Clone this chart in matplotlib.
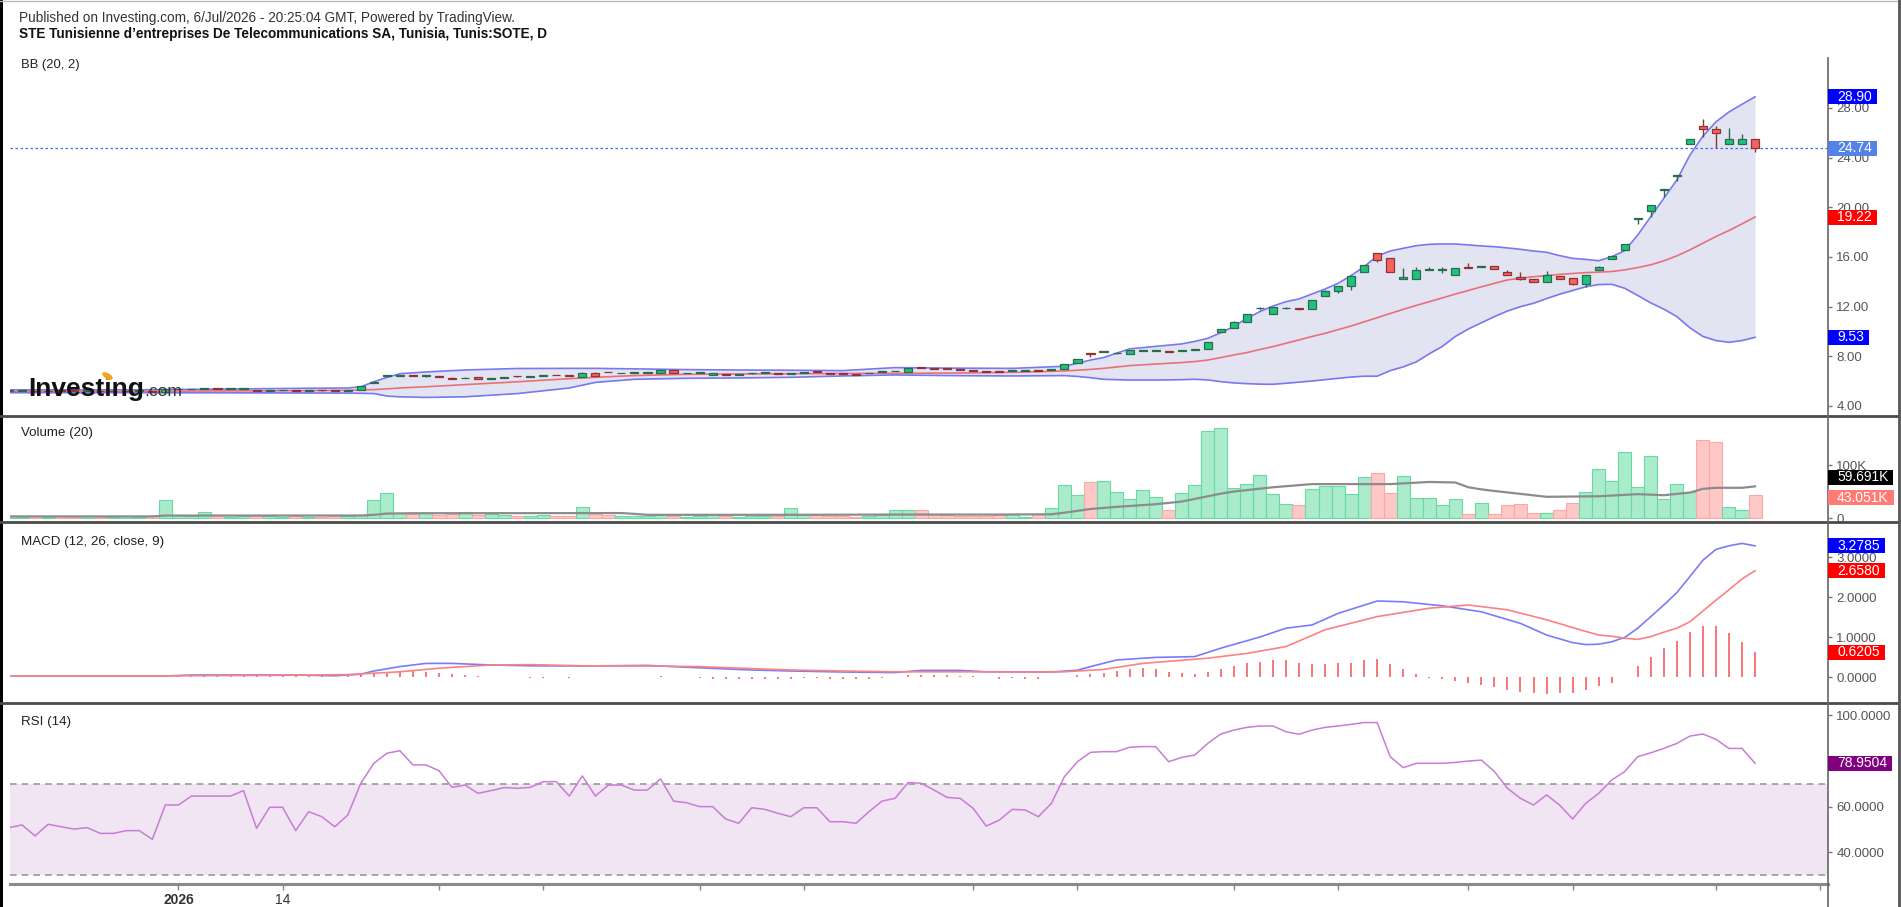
import numpy as np
import matplotlib.pyplot as plt
from matplotlib.patches import Rectangle, Ellipse
from matplotlib.lines import Line2D

plt.rcParams['font.family'] = ['Liberation Sans', 'DejaVu Sans']

W, H = 1901, 907

# daily bars of Tunis:SOTE, index 0..134 (last bar = 6 Jul 2026)
opens = [5.20, 5.21, 5.22, 5.17, 5.22, 5.21, 5.20, 5.21, 5.18, 5.18,
         5.19, 5.19, 5.14, 5.34, 5.33, 5.36, 5.38, 5.37, 5.37, 5.30,
         5.23, 5.26, 5.27, 5.22, 5.26, 5.25, 5.20, 5.29, 5.83, 6.40,
         6.43, 6.46, 6.40, 6.40, 6.22, 6.22, 6.34, 6.16, 6.22, 6.42,
         6.36, 6.40, 6.48, 6.45, 6.36, 6.68, 6.73, 6.63, 6.68, 6.64,
         6.63, 6.87, 6.63, 6.64, 6.50, 6.52, 6.53, 6.62, 6.68, 6.57,
         6.58, 6.65, 6.76, 6.63, 6.59, 6.54, 6.63, 6.73, 6.79, 6.77,
         7.09, 6.98, 6.97, 6.91, 6.86, 6.75, 6.75, 6.81, 6.84, 6.86,
         6.89, 6.95, 7.49, 8.21, 8.36, 8.24, 8.19, 8.44, 8.44, 8.37,
         8.46, 8.50, 8.61, 9.93, 10.26, 10.79, 11.86, 11.41, 11.86, 11.82,
         11.81, 12.86, 13.26, 13.66, 14.82, 16.30, 15.90, 14.20, 14.20, 14.95,
         14.94, 14.55, 15.15, 15.20, 15.25, 14.77, 14.41, 14.23, 14.01, 14.47,
         14.28, 13.80, 14.95, 15.84, 16.56, 19.08, 19.70, 21.42, 22.55, 25.08,
         26.55, 26.31, 25.08, 25.08, 25.48]
highs = [5.22, 5.23, 5.22, 5.23, 5.23, 5.22, 5.22, 5.21, 5.19, 5.20,
         5.20, 5.19, 5.36, 5.35, 5.37, 5.38, 5.39, 5.38, 5.40, 5.31,
         5.27, 5.27, 5.27, 5.27, 5.27, 5.25, 5.31, 5.62, 5.98, 6.46,
         6.48, 6.46, 6.41, 6.40, 6.30, 6.34, 6.34, 6.22, 6.35, 6.43,
         6.40, 6.46, 6.49, 6.45, 6.70, 6.70, 6.74, 6.66, 6.70, 6.65,
         6.88, 6.88, 6.65, 6.66, 6.69, 6.58, 6.54, 6.65, 6.70, 6.58,
         6.60, 6.67, 6.77, 6.64, 6.60, 6.55, 6.65, 6.75, 6.81, 7.05,
         7.15, 6.99, 6.98, 6.92, 6.87, 6.76, 6.76, 6.83, 6.87, 6.86,
         6.91, 7.39, 7.79, 8.22, 8.40, 8.32, 8.52, 8.47, 8.47, 8.38,
         8.48, 8.62, 9.17, 10.22, 10.81, 11.43, 12.00, 11.97, 12.00, 11.83,
         12.56, 13.31, 13.68, 14.51, 15.38, 16.32, 15.92, 15.14, 15.20, 15.22,
         15.22, 15.12, 15.50, 15.30, 15.27, 14.99, 14.77, 14.25, 14.87, 14.49,
         14.30, 14.57, 15.24, 16.12, 17.04, 19.14, 20.21, 21.48, 22.64, 25.50,
         27.09, 26.55, 26.36, 25.88, 25.50]
lows = [5.18, 5.19, 5.16, 5.17, 5.20, 5.19, 5.20, 5.18, 5.17, 5.18,
        5.18, 5.12, 5.13, 5.33, 5.33, 5.35, 5.36, 5.36, 5.37, 5.22,
        5.23, 5.25, 5.20, 5.22, 5.24, 5.18, 5.20, 5.29, 5.83, 6.38,
        6.43, 6.38, 6.30, 6.36, 6.14, 6.22, 6.14, 6.16, 6.22, 6.37,
        6.36, 6.40, 6.46, 6.40, 6.36, 6.44, 6.70, 6.62, 6.67, 6.62,
        6.63, 6.63, 6.62, 6.62, 6.48, 6.49, 6.51, 6.60, 6.66, 6.55,
        6.57, 6.64, 6.73, 6.60, 6.57, 6.52, 6.62, 6.72, 6.78, 6.77,
        7.06, 6.96, 6.95, 6.89, 6.84, 6.73, 6.73, 6.80, 6.84, 6.84,
        6.88, 6.95, 7.49, 7.93, 8.34, 8.16, 8.19, 8.43, 8.43, 8.33,
        8.45, 8.48, 8.61, 9.93, 10.26, 10.79, 11.76, 11.41, 11.84, 11.72,
        11.81, 12.86, 13.14, 13.35, 14.82, 15.63, 14.82, 14.20, 14.20, 14.93,
        14.70, 14.55, 15.12, 15.18, 15.02, 14.55, 14.16, 13.97, 14.01, 14.21,
        13.78, 13.61, 14.93, 15.84, 16.56, 18.65, 19.20, 20.80, 22.10, 25.08,
        25.69, 24.80, 25.08, 25.08, 24.48]
closes = [5.21, 5.22, 5.17, 5.22, 5.21, 5.20, 5.21, 5.18, 5.18, 5.19,
          5.19, 5.13, 5.34, 5.34, 5.36, 5.37, 5.37, 5.37, 5.39, 5.23,
          5.26, 5.26, 5.22, 5.26, 5.25, 5.19, 5.30, 5.61, 5.96, 6.43,
          6.46, 6.40, 6.40, 6.37, 6.20, 6.29, 6.15, 6.20, 6.34, 6.39,
          6.38, 6.45, 6.47, 6.41, 6.68, 6.45, 6.71, 6.64, 6.69, 6.64,
          6.87, 6.63, 6.64, 6.64, 6.66, 6.50, 6.53, 6.64, 6.69, 6.56,
          6.58, 6.66, 6.74, 6.61, 6.58, 6.53, 6.64, 6.74, 6.80, 7.03,
          7.08, 6.97, 6.96, 6.90, 6.85, 6.74, 6.74, 6.82, 6.85, 6.85,
          6.90, 7.38, 7.78, 8.19, 8.37, 8.24, 8.50, 8.45, 8.45, 8.35,
          8.47, 8.52, 9.15, 10.20, 10.79, 11.41, 11.87, 11.95, 11.87, 11.80,
          12.54, 13.29, 13.66, 14.49, 15.36, 15.76, 14.82, 14.41, 14.95, 14.96,
          14.95, 15.09, 15.13, 15.22, 15.03, 14.55, 14.23, 13.99, 14.55, 14.23,
          13.80, 14.55, 15.22, 16.10, 17.02, 19.11, 20.19, 21.46, 22.60, 25.48,
          26.30, 26.01, 25.48, 25.48, 24.74]

# volume in thousands
volume_k = [3, 2, 3, 2, 3, 2, 3, 2, 2, 3,
            2, 3, 34, 5, 4, 12, 5, 1, 3, 4,
            3, 2, 3, 2, 2, 4, 4, 5, 34, 48,
            10, 8, 10, 5, 8, 11, 6, 7, 5, 4,
            3, 5, 4, 3, 21, 8, 5, 3, 4, 3,
            6, 4, 2, 3, 5, 4, 2, 3, 3, 4,
            19, 8, 6, 4, 3, 2, 4, 5, 15, 15,
            15, 8, 5, 3, 4, 4, 5, 8, 2, 8,
            18, 62, 43, 67, 70, 50, 35, 53, 40, 14.5,
            48, 62, 164, 169, 56, 64, 82, 45, 26, 24,
            55, 61, 61, 45, 77, 84, 48, 80, 38, 38,
            24, 35, 7, 28, 7, 24, 26, 9, 9, 15,
            28, 50, 92, 70, 125, 59, 117, 36, 64, 50,
            147, 144, 21, 15, 43.051]

# volume MA(20), read at these bars
vma_x = [0, 11, 12, 27, 28, 29, 31, 47, 48, 49, 60, 68, 76, 80, 81, 83, 85, 88, 90, 92,
         93, 94, 97, 100, 103, 106, 109, 111, 112, 113, 114, 118, 122, 125, 127, 129, 130, 131, 133, 134]
vma = [3, 3, 4.6, 4.7, 6, 8.4, 9, 9.3, 7.8, 6, 6, 6.5, 6.5, 7, 10, 17, 21, 26, 31, 41,
       46, 50, 58, 64, 64, 64, 68, 67, 58, 54, 51, 40, 41, 45, 43, 48, 55, 57, 57, 59.691]

# Bollinger bands (20, 2), read at these bars
bb_x = [0, 10, 18, 22, 26, 27, 28, 29, 30, 32, 35, 39, 43, 45, 48, 52, 56, 60, 64, 68,
        72, 77, 81, 82, 83, 84, 86, 88, 90, 91,
        92, 93, 94, 95, 96, 97, 98, 99, 100, 101, 102, 103, 104, 105, 106, 107, 108, 109, 110, 111,
        112, 113, 114, 115, 116, 117, 118, 119, 120, 121, 122, 123, 124, 125, 126, 127, 128, 129, 130, 131,
        132, 133, 134]
bb_upper = [5.30, 5.30, 5.38, 5.42, 5.45, 5.55, 5.95, 6.30, 6.60, 6.74,
            6.90, 7.02, 7.03, 7.03, 6.99, 6.93, 6.90, 6.88, 6.85, 7.09,
            7.05, 7.03, 7.20, 7.44, 7.70, 7.90, 8.60, 8.80, 9.00, 9.20,
            9.45, 9.90, 10.40, 11.06, 11.60, 12.05, 12.40, 12.62, 13.02, 13.42,
            13.88, 14.50, 15.22, 16.08, 16.48, 16.70, 16.91, 17.02, 17.05, 17.05,
            16.97, 16.89, 16.83, 16.73, 16.62, 16.48, 16.38, 16.11, 15.89, 15.81,
            15.70, 16.02, 16.51, 17.77, 19.25, 20.73, 22.20, 24.20, 25.73, 26.88,
            27.68, 28.30, 28.90]
bb_mid = [5.18, 5.19, 5.22, 5.23, 5.26, 5.29, 5.32, 5.38, 5.45, 5.55,
          5.72, 5.95, 6.20, 6.31, 6.45, 6.55, 6.58, 6.60, 6.62, 6.63,
          6.65, 6.71, 6.82, 6.88, 6.95, 7.03, 7.25, 7.38, 7.50, 7.58,
          7.70, 7.90, 8.11, 8.30, 8.55, 8.78, 9.05, 9.32, 9.60, 9.85,
          10.15, 10.44, 10.78, 11.11, 11.45, 11.78, 12.10, 12.40, 12.70, 13.02,
          13.30, 13.60, 13.88, 14.15, 14.30, 14.41, 14.50, 14.60, 14.67, 14.74,
          14.78, 14.83, 14.96, 15.15, 15.37, 15.69, 16.09, 16.57, 17.11, 17.65,
          18.13, 18.67, 19.22]
bb_lower = [5.07, 5.07, 5.06, 5.05, 5.04, 5.02, 5.00, 4.80, 4.74, 4.69,
            4.74, 5.00, 5.45, 5.90, 6.15, 6.23, 6.26, 6.31, 6.42, 6.50,
            6.45, 6.42, 6.45, 6.38, 6.28, 6.15, 6.09, 6.09, 6.12, 6.15,
            6.10, 5.96, 5.86, 5.80, 5.76, 5.75, 5.83, 5.92, 6.01, 6.12,
            6.23, 6.33, 6.40, 6.40, 6.85, 7.15, 7.55, 8.20, 8.80, 9.60,
            10.20, 10.70, 11.20, 11.65, 12.00, 12.27, 12.65, 13.00, 13.30, 13.60,
            13.78, 13.80, 13.48, 12.90, 12.30, 11.80, 11.20, 10.30, 9.60, 9.27,
            9.13, 9.27, 9.53]

# MACD (12, 26, close, 9)
macd_x = [0, 12, 14, 22, 25, 27, 28, 30, 32, 34, 37, 40, 44, 49, 53, 57, 60, 64, 68, 70,
          73, 75, 80, 82, 83, 85, 88, 91, 93, 96, 98, 100, 102, 105, 107, 110, 113, 116, 118, 120,
          121, 122, 123, 124, 125, 126, 127, 128, 129, 130, 131, 132, 133, 134]
macd_line = [0.02, 0.025, 0.05, 0.05, 0.03, 0.07, 0.15, 0.26, 0.34, 0.34,
             0.30, 0.28, 0.275, 0.29, 0.23, 0.175, 0.15, 0.125, 0.11, 0.165,
             0.165, 0.13, 0.125, 0.17, 0.26, 0.425, 0.49, 0.51, 0.72, 1.0,
             1.22, 1.3, 1.59, 1.9, 1.88, 1.78, 1.63, 1.34, 1.05, 0.86,
             0.81, 0.82, 0.88, 0.99, 1.22, 1.51, 1.80, 2.11, 2.51, 2.92,
             3.19, 3.28, 3.34, 3.2785]
sig_x = [0, 13, 22, 26, 30, 33, 37, 40, 44, 49, 53, 57, 60, 64, 68, 73, 78, 81, 84, 87,
         92, 95, 98, 101, 105, 109, 112, 115, 118, 121, 122, 123, 124, 125, 126, 127, 128, 129, 130, 131,
         132, 133, 134]
sig_line = [0.02, 0.03, 0.045, 0.06, 0.13, 0.22, 0.30, 0.31, 0.28, 0.275,
            0.26, 0.21, 0.175, 0.15, 0.13, 0.13, 0.125, 0.13, 0.19, 0.34,
            0.47, 0.59, 0.76, 1.18, 1.51, 1.72, 1.80, 1.68, 1.43, 1.14,
            1.05, 1.02, 0.97, 0.94, 1.01, 1.12, 1.22, 1.38, 1.65, 1.92,
            2.18, 2.45, 2.658]
macd_hist = [0, 0, 0, 0, 0, 0, 0, 0, 0, 0,
             0, 0, 0, 0.02, 0.025, 0.03, 0.03, 0.025, 0.03, 0.02,
             0.02, 0.025, 0.02, 0.02, 0.015, 0.01, 0.02, 0.05, 0.075, 0.11,
             0.13, 0.15, 0.13, 0.09, 0.07, 0.04, 0.025, 0.005, 0.0, -0.01,
             -0.03, -0.03, 0.0, -0.03, 0.0, -0.005, 0.0, 0.0, 0.0, 0.0,
             0.03, 0.0, 0.0, -0.03, -0.04, -0.05, -0.06, -0.05, -0.04, -0.05,
             -0.04, -0.03, -0.03, -0.04, -0.05, -0.05, -0.04, -0.02, -0.01, 0.04,
             0.05, 0.04, 0.04, 0.03, 0.02, 0.0, -0.04, -0.03, -0.04, -0.04,
             0.0, 0.01, 0.04, 0.07, 0.11, 0.16, 0.21, 0.22, 0.19, 0.13,
             0.09, 0.075, 0.13, 0.20, 0.28, 0.34, 0.38, 0.43, 0.43, 0.36,
             0.33, 0.33, 0.34, 0.36, 0.43, 0.44, 0.33, 0.19, 0.075, -0.03,
             -0.06, -0.09, -0.14, -0.20, -0.26, -0.33, -0.38, -0.41, -0.43, -0.41,
             -0.41, -0.33, -0.23, -0.14, 0.01, 0.28, 0.50, 0.72, 0.90, 1.13,
             1.27, 1.27, 1.10, 0.88, 0.6205]

# RSI (14)
rsi = [50.8, 52.0, 47.2, 52.3, 51.2, 50.2, 50.8, 48.3, 48.3, 49.5,
       49.5, 45.7, 60.7, 60.7, 64.6, 64.6, 64.6, 64.6, 67.0, 50.5,
       59.7, 59.7, 49.5, 57.8, 55.6, 51.2, 56.3, 70.2, 78.9, 83.3,
       84.4, 78.2, 78.2, 75.7, 68.4, 69.4, 65.8, 67.0, 68.3, 68.0,
       68.4, 70.9, 70.9, 64.6, 73.4, 64.6, 69.4, 69.4, 67.2, 67.2,
       72.1, 62.4, 61.7, 60.0, 60.0, 54.6, 52.7, 59.5, 58.8, 57.1,
       55.6, 59.5, 59.5, 53.4, 53.4, 52.7, 57.8, 62.4, 63.6, 70.5,
       70.2, 67.2, 64.0, 63.6, 59.2, 51.5, 54.1, 58.8, 58.5, 55.6,
       61.4, 73.1, 79.6, 83.7, 84.0, 84.0, 85.9, 86.2, 86.2, 79.6,
       81.5, 82.5, 87.6, 91.7, 93.4, 94.6, 95.2, 95.2, 92.7, 91.6,
       93.4, 94.6, 95.2, 95.9, 96.7, 96.7, 81.8, 77.0, 78.9, 78.9,
       78.9, 79.3, 79.9, 80.3, 75.3, 68.0, 63.6, 60.7, 65.1, 60.7,
       54.6, 61.4, 65.8, 71.6, 75.3, 81.8, 83.5, 85.4, 87.6, 90.8,
       91.7, 89.4, 85.4, 85.4, 78.9504]

tick_idx = [13, 21, 33, 41, 53, 61, 74, 82, 94, 102, 112, 120, 131, 139]
tick_text = ['2026', '14'] + [''] * 12

fig = plt.figure(figsize=(W / 100, H / 100), dpi=100)
fig.patch.set_facecolor('white')


def pane(top, bottom):
    ax = fig.add_axes([10 / W, 1 - bottom / H, 1818 / W, (bottom - top) / H])
    for s in ax.spines.values():
        s.set_visible(False)
    ax.set_facecolor('none')
    ax.yaxis.tick_right()
    ax.tick_params(axis='y', length=3, width=1, color='#777', labelsize=9.5,
                   labelcolor='#555', pad=3)
    ax.set_xlim(0.077, 139.6)
    ax.set_xticks([])
    return ax


x = np.arange(len(closes))
o = np.array(opens)
c = np.array(closes)
up = c >= o

# ---- price pane
ax_p = pane(50, 415)
ax_p.fill_between(bb_x, bb_lower, bb_upper, color='#e3e4f1', lw=0, zorder=1)
ax_p.plot(bb_x, bb_upper, color='#7878f0', lw=1.2, zorder=2)
ax_p.plot(bb_x, bb_lower, color='#7878f0', lw=1.2, zorder=2)
ax_p.plot(bb_x, bb_mid, color='#e8707a', lw=1.2, zorder=2)
ax_p.axhline(closes[-1], color='#3f6fe8', lw=0.9, ls=(0, (2, 2)), zorder=2)

edge = np.where(up, '#2c6a4e', '#8e3434')
fill = np.where(up, '#1fc27c', '#f4645f')
body_lo = np.minimum(o, c)
body_h = np.maximum(np.abs(c - o), 0.06)
ax_p.vlines(x, lows, highs, colors=edge, lw=1, zorder=3)
ax_p.bar(x, body_h, bottom=body_lo, width=0.62, color=fill, edgecolor=edge, linewidth=0.9, zorder=4)
ax_p.set_ylim(3.275, 32.67)
ax_p.set_yticks(range(4, 29, 4))
ax_p.set_yticklabels([f'{v:.2f}' for v in range(4, 29, 4)])

# ---- volume pane
ax_v = pane(417, 520)
ax_v.bar(x, volume_k, width=1.0, color=np.where(up, '#a9ebcb', '#fec8c6'),
         edgecolor=np.where(up, '#66dba2', '#fba7a4'), linewidth=0.8, zorder=2)
ax_v.plot(vma_x, vma, color='#8c8c8c', lw=1.6, zorder=3)
ax_v.set_ylim(-3.77, 190.6)
ax_v.set_yticks([0, 100])
ax_v.set_yticklabels(['0', '100K'])

# ---- MACD pane
ax_m = pane(523, 701)
ax_m.vlines(x, 0, macd_hist, colors='#f76b6b', lw=1.3, zorder=2)
ax_m.plot(macd_x, macd_line, color='#7b7bfa', lw=1.2, zorder=3)
ax_m.plot(sig_x, sig_line, color='#fa8282', lw=1.2, zorder=3)
ax_m.set_ylim(-0.6, 3.85)
ax_m.set_yticks([0, 1, 2, 3])
ax_m.set_yticklabels([f'{v:.4f}' for v in range(4)])

# ---- RSI pane
ax_r = pane(705, 883)
ax_r.axhspan(30, 70, color='#f1e4f3', lw=0, zorder=1)
for lvl in (30, 70):
    ax_r.axhline(lvl, color='#999999', lw=1.2, ls=(0, (4, 3)), zorder=2)
ax_r.plot(x, rsi, color='#c77dd4', lw=1.1, zorder=3)
ax_r.set_ylim(26.64, 104.37)
ax_r.set_yticks([40, 60, 80, 100])
ax_r.set_yticklabels([f'{v:.4f}' for v in (40, 60, 80, 100)])
ax_r.set_xticks(tick_idx)
ax_r.set_xticklabels(tick_text)
ax_r.tick_params(axis='x', length=5, width=1, color='#888', labelsize=10,
                 labelcolor='#333', pad=2)
ax_r.get_xticklabels()[0].set_fontweight('bold')

# ---- frame lines
def hline(y, x0, x1, color, lw):
    fig.add_artist(Line2D([x0 / W, x1 / W], [1 - y / H] * 2, color=color, lw=lw))

def vline(xp, y0, y1, color, lw):
    fig.add_artist(Line2D([xp / W] * 2, [1 - y0 / H, 1 - y1 / H], color=color, lw=lw))

for yy in (416, 521.5, 703):
    hline(yy, 0, 1898, '#4a4a4a', 2)
hline(884, 10, 1828, '#8a8a8a', 2.2)
hline(0.5, 0, W, '#bbbbbb', 1)
vline(1828, 58, H, '#666666', 1.2)
vline(1898.5, 0, H, '#555555', 2)
fig.add_artist(Rectangle((0, 0), 3 / W, 1, transform=fig.transFigure, color='black', lw=0))

# ---- texts
fig.text(19 / W, 1 - 18 / H, 'Published on Investing.com, 6/Jul/2026 - 20:25:04 GMT, Powered by TradingView.',
         fontsize=9.8, color='#333333', va='center')
fig.text(19 / W, 1 - 34 / H, 'STE Tunisienne d\u2019entreprises De Telecommunications SA, Tunisia, Tunis:SOTE, D',
         fontsize=9.8, fontweight='bold', color='#111111', va='center')
fig.text(21 / W, 1 - 65 / H, 'BB (20, 2)', fontsize=9.4, color='#222222', va='center')
fig.text(21 / W, 1 - 433 / H, 'Volume (20)', fontsize=9.6, color='#222222', va='center')
fig.text(21 / W, 1 - 542 / H, 'MACD (12, 26, close, 9)', fontsize=9.6, color='#222222', va='center')
fig.text(21 / W, 1 - 722 / H, 'RSI (14)', fontsize=9.6, color='#222222', va='center')

renderer = fig.canvas.get_renderer()
logo = fig.text(28 / W, 1 - 396 / H, 'Investing', fontsize=19, fontweight='bold',
                color='#111111', va='baseline', zorder=6)
lb = logo.get_window_extent(renderer)
fig.text(lb.x1 / W, 1 - 396 / H, '.com', fontsize=12.5, color='#333333', va='baseline', zorder=6)
fig.add_artist(Ellipse((107.5 / W, 1 - 376 / H), 6 / W, 7 / H, angle=30,
                       transform=fig.transFigure, color='#f7a21b', zorder=7))


def value_box(ax, val, text, color, dy=0.0):
    y = ax.transData.transform((0, val))[1] + dy
    t = fig.text(1837 / W, y / H, text, color='white', fontsize=10, va='center', ha='left', zorder=8)
    bb = t.get_window_extent(renderer)
    fig.add_artist(Rectangle((1828 / W, (y - 7.5) / H), (bb.x1 + 5 - 1828) / W, 15 / H,
                             transform=fig.transFigure, color=color, lw=0, zorder=7))


value_box(ax_p, bb_upper[-1], f'{bb_upper[-1]:.2f}', '#0000ff')
value_box(ax_p, closes[-1], f'{closes[-1]:.2f}', '#5582e6')
value_box(ax_p, bb_mid[-1], f'{bb_mid[-1]:.2f}', '#ff0000')
value_box(ax_p, bb_lower[-1], f'{bb_lower[-1]:.2f}', '#0000ff')
value_box(ax_v, vma[-1], f'{vma[-1]:.3f}K', '#000000', dy=9)
value_box(ax_v, volume_k[-1], f'{volume_k[-1]:.3f}K', '#ff7b74', dy=-2.5)
value_box(ax_m, macd_line[-1], f'{macd_line[-1]:.4f}', '#0000ff')
value_box(ax_m, sig_line[-1], f'{sig_line[-1]:.4f}', '#ff0000')
value_box(ax_m, macd_hist[-1], f'{macd_hist[-1]:.4f}', '#ff0000')
value_box(ax_r, rsi[-1], f'{rsi[-1]:.4f}', '#800080')

fig.savefig('out.png', dpi=100)
